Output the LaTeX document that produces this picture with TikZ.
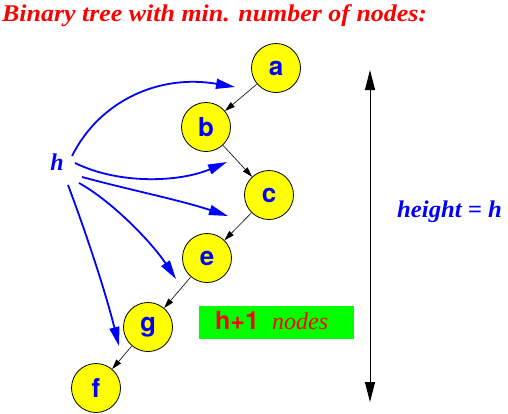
\documentclass[tikz,border=0pt]{standalone}
\usepackage{graphicx}
\usepackage{fontspec}
\newfontfamily\tms{Liberation Serif}
\newfontfamily\helv{TeX Gyre Heros}
\usetikzlibrary{arrows.meta}
\definecolor{pblue}{RGB}{0,0,255}
\definecolor{pred}{RGB}{255,0,0}
\definecolor{pyellow}{RGB}{255,255,0}
\definecolor{pgreen}{RGB}{0,255,0}
\begin{document}
\begin{tikzpicture}[x=1pt,y=-1pt,
  treenode/.style={circle, draw=black, line width=0.8pt, fill=pyellow, minimum size=49pt, inner sep=0pt,
    font=\helv\bfseries\fontsize{26}{26}\selectfont, text=pblue},
  treeedge/.style={-{Triangle[length=10pt,width=6pt]}, line width=0.6pt, black, shorten <=0.5pt},
  harrow/.style={-{Triangle[length=19pt,width=10pt]}, line width=1.8pt, pblue},
  vertarrow/.style={{Triangle[length=20pt,width=10pt]}-{Triangle[length=20pt,width=10pt]}, line width=1pt, black},
  serifbi/.style={font=\tms\bfseries\itshape\fontsize{24}{24}\selectfont, inner sep=0pt}
]
\useasboundingbox (0,0) rectangle (508,413);

% title
\node[serifbi, text=pred, anchor=base west] (title) at (2,21) {\scalebox{1.08}[1]{Binary tree with min. number of nodes:}};

% tree nodes
\node[treenode] (a) at (276,68) {a};
\node[treenode] (b) at (206,127) {b};
\node[treenode] (c) at (269,195) {c};
\node[treenode] (e) at (207,258) {e};
\node[treenode] (g) at (148,327) {g};
\node[treenode] (f) at (96,388) {f};

\draw[treeedge] (a) -- (b);
\draw[treeedge] (b) -- (c);
\draw[treeedge] (c) -- (e);
\draw[treeedge] (e) -- (g);
\draw[treeedge] (g) -- (f);

% h label and arrows
\node[serifbi, text=pblue, anchor=base] (h) at (57,170) {h};
\coordinate (s1) at (72,156);
\coordinate (s2) at (75,163);
\coordinate (s3) at (82,177);
\coordinate (s4) at (79,183);
\coordinate (s5) at (68,185);
\coordinate (t1) at (235,87);
\coordinate (t2) at (227,162);
\coordinate (t3) at (228,216);
\coordinate (t4) at (176,279);
\coordinate (t5) at (119,346);
\draw[harrow] (s1) .. controls (100,100) and (160,74) .. (t1);
\draw[harrow] (s2) .. controls (120,185) and (180,182) .. (t2);
\draw[harrow] (s3) .. controls (130,190) and (180,200) .. (t3);
\draw[harrow] (s4) .. controls (110,200) and (150,240) .. (t4);
\draw[harrow] (s5) .. controls (85,230) and (105,290) .. (t5);

% vertical double arrow
\coordinate (vtop) at (370,70);
\coordinate (vbot) at (370,402);
\draw[vertarrow] (vtop) -- (vbot);
\node[serifbi, text=pblue, anchor=base west] (ht) at (397,217) {\scalebox{1.03}[1]{height = h}};

% green box
\node[fill=pgreen, minimum width=155pt, minimum height=33pt, inner sep=0pt, anchor=north west] (box) at (199,306) {};
\node[font=\helv\bfseries\fontsize{25}{25}\selectfont, text=pred, anchor=base west, inner sep=0pt] (hp) at (215,329) {h+1};
\node[font=\tms\itshape\fontsize{24}{24}\selectfont, text=pred, anchor=base west, inner sep=0pt] (nd) at (272,329) {nodes};
\end{tikzpicture}
\end{document}
